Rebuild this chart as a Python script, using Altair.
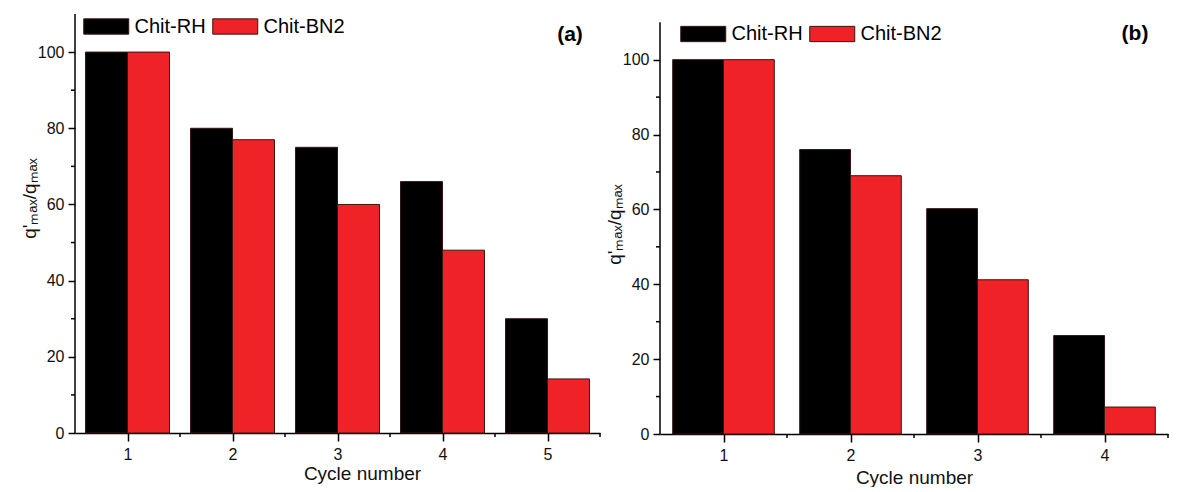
import altair as alt
import pandas as pd

# ---- data ----
series = ["Chit-RH", "Chit-BN2"]
colors = ["#000000", "#EE2227"]

cycles_a = [1, 2, 3, 4, 5]
rh_a = [100, 80, 75, 66, 30]
bn2_a = [100, 77, 60, 48, 14.2]

cycles_b = [1, 2, 3, 4]
rh_b = [100, 76, 60.2, 26.3]
bn2_b = [100, 69, 41.2, 7.2]

y_major = [0, 20, 40, 60, 80, 100]
y_minor = [10, 30, 50, 70, 90]
x_minor_a = [1.5, 2.5, 3.5, 4.5, 5.5]
x_minor_b = [1.5, 2.5, 3.5, 4.5]
y_axis_span = [0, 110]
panel_labels = ["(a)", "(b)"]

FONT = "Liberation Sans"
Y_TITLE = "q'ₘₐₓ/qₘₐₓ"
# swatch drawn twice as wide as its nominal (square) legend size
SWATCH = "M-2,-0.68H2V0.68H-2Z"
SW_HALF = 11.25  # half of sqrt(symbolSize)


def panel(cycles, rh, bn2, x_minor, label, width, height, ytop,
          legend_xy, label_xy, x_title_pad, x_title_x=None, y_title_y=None):
    df = pd.DataFrame({
        "cycle": cycles + cycles,
        "series": [series[0]] * len(cycles) + [series[1]] * len(cycles),
        "value": rh + bn2,
    })
    xs = alt.Scale(domain=[0.5, len(cycles) + 0.5], nice=False, zero=False)
    ys = alt.Scale(domain=[0, ytop], nice=False, zero=True)

    x_axis_kw = dict(values=cycles, format="d", title="Cycle number", tickSize=8,
                     labelPadding=5, titlePadding=x_title_pad, grid=False)
    if x_title_x is not None:
        x_axis_kw["titleX"] = x_title_x
    y_axis_kw = dict(values=y_major, title=Y_TITLE, tickSize=7, labelPadding=4,
                     titlePadding=-2, grid=False, domain=False)
    if y_title_y is not None:
        y_axis_kw["titleY"] = y_title_y
    x_axis = alt.Axis(**x_axis_kw)
    y_axis = alt.Axis(**y_axis_kw)

    bars = alt.Chart(df).transform_calculate(
        xa="datum.series == 'Chit-RH' ? datum.cycle - 0.4 : datum.cycle",
        xb="datum.series == 'Chit-RH' ? datum.cycle : datum.cycle + 0.4",
    ).mark_bar(stroke="#3a1515", strokeWidth=1).encode(
        x=alt.X("xa:Q", scale=xs, axis=x_axis),
        x2="xb:Q",
        y=alt.Y("value:Q", scale=ys, axis=y_axis),
        y2=alt.datum(0),
        color=alt.Color(
            "series:N",
            scale=alt.Scale(domain=series, range=colors),
            legend=alt.Legend(
                orient="none", legendX=legend_xy[0] + SW_HALF, legendY=legend_xy[1],
                direction="horizontal", title=None,
                symbolType=SWATCH, symbolSize=(2 * SW_HALF) ** 2,
                symbolStrokeColor="#3a1515", symbolStrokeWidth=1,
                labelFontSize=20, labelFont=FONT, labelColor="#000",
                labelOffset=SW_HALF + 5, columnPadding=4,
            ),
        ),
    )

    yminor = alt.Chart(pd.DataFrame({"v": y_minor})).mark_rule(
        color="#000", strokeWidth=1.5
    ).encode(
        y=alt.Y("v:Q", scale=ys, axis=y_axis),
        x=alt.value(-4),
        x2=alt.value(0),
    )

    xminor = alt.Chart(pd.DataFrame({"v": x_minor})).mark_rule(
        color="#000", strokeWidth=1.5
    ).encode(
        x=alt.X("v:Q", scale=xs, axis=x_axis),
        y=alt.value(height),
        y2=alt.value(height + 4),
    )

    yline = alt.Chart(pd.DataFrame({"y0": [y_axis_span[0]], "y1": [y_axis_span[1]]})).mark_rule(
        color="#000", strokeWidth=1.5
    ).encode(
        y=alt.Y("y0:Q", scale=ys, axis=y_axis),
        y2="y1:Q",
        x=alt.value(0),
    )

    lbl = alt.Chart(pd.DataFrame({"t": [label]})).mark_text(
        font=FONT, fontSize=21, fontWeight="bold", color="#000"
    ).encode(
        x=alt.value(label_xy[0]),
        y=alt.value(label_xy[1]),
        text="t:N",
    )

    return alt.layer(bars, yminor, xminor, yline, lbl).properties(width=width, height=height)


pa = panel(cycles_a, rh_a, bn2_a, x_minor_a, panel_labels[0], 525, 419, 110,
           legend_xy=(8, 0.5), label_xy=(495, 21), x_title_pad=2,
           x_title_x=287, y_title_y=184)
pb = panel(cycles_b, rh_b, bn2_b, x_minor_b, panel_labels[1], 508, 420, 112.2,
           legend_xy=(20, 8), label_xy=(475, 20), x_title_pad=5)

chart = alt.hconcat(pa, pb, spacing=60, bounds="flush").resolve_scale(
    color="independent"
).resolve_legend(
    color="independent"
).properties(
    padding={"left": 12, "top": 5, "right": 0, "bottom": 0}
).configure_view(
    stroke=None
).configure_axis(
    labelFont=FONT, titleFont=FONT, labelFontSize=16, titleFontSize=19,
    titleFontWeight="normal", domainColor="#000", domainWidth=1.5,
    tickColor="#000", tickWidth=1.5, labelColor="#111", titleColor="#111",
)

chart.save("out.html", embed_options={"renderer": "svg", "actions": False})
